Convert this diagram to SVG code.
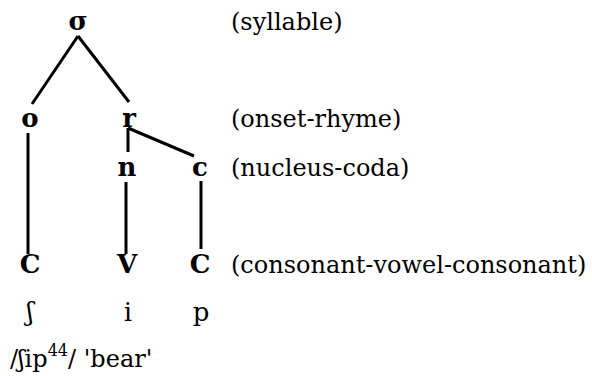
<svg xmlns="http://www.w3.org/2000/svg" width="592" height="376" viewBox="0 0 592 376">
<style>
text{font-family:"DejaVu Serif","Liberation Serif",serif;font-size:24px;fill:#000}
.n{font-weight:bold;text-anchor:middle;font-size:26px}
.s{text-anchor:middle;font-size:26px}
.e line{stroke:#000;stroke-width:3;stroke-linecap:butt}
</style>
<rect width="592" height="376" fill="#fff"/>
<g class="e" id="connectors">
<line x1="78" y1="36" x2="32" y2="104"/>
<line x1="78" y1="36" x2="129" y2="102"/>
<line x1="128" y1="128" x2="128" y2="152"/>
<line x1="128" y1="128" x2="194" y2="156"/>
<line x1="28" y1="133" x2="28" y2="254"/>
<line x1="126" y1="182" x2="126" y2="254"/>
<line x1="201" y1="181" x2="201" y2="249"/>
</g>
<g id="sigma"><text class="n" x="78" y="30">σ</text></g>
<g id="o"><text class="n" x="30" y="127">o</text></g>
<g id="r"><text class="n" x="129" y="127">r</text></g>
<g id="nuc"><text class="n" x="127" y="176">n</text></g>
<g id="coda"><text class="n" x="200" y="176">c</text></g>
<g id="C1"><text class="n" x="30" y="273">C</text></g>
<g id="V"><text class="n" x="127" y="273">V</text></g>
<g id="C2"><text class="n" x="200" y="273">C</text></g>
<g id="labels">
<text x="231" y="30">(syllable)</text>
<text x="231" y="127">(onset-rhyme)</text>
<text x="231" y="176">(nucleus-coda)</text>
<text x="231" y="273">(consonant-vowel-consonant)</text>
</g>
<g id="segments">
<text class="s" x="30" y="321">ʃ</text>
<text class="s" x="128" y="321">i</text>
<text class="s" x="201" y="321">p</text>
</g>
<g id="gloss"><text x="10" y="367" font-size="26">/ʃip<tspan font-size="16" dy="-11">44</tspan><tspan dy="11">/ 'bear'</tspan></text></g>
</svg>
